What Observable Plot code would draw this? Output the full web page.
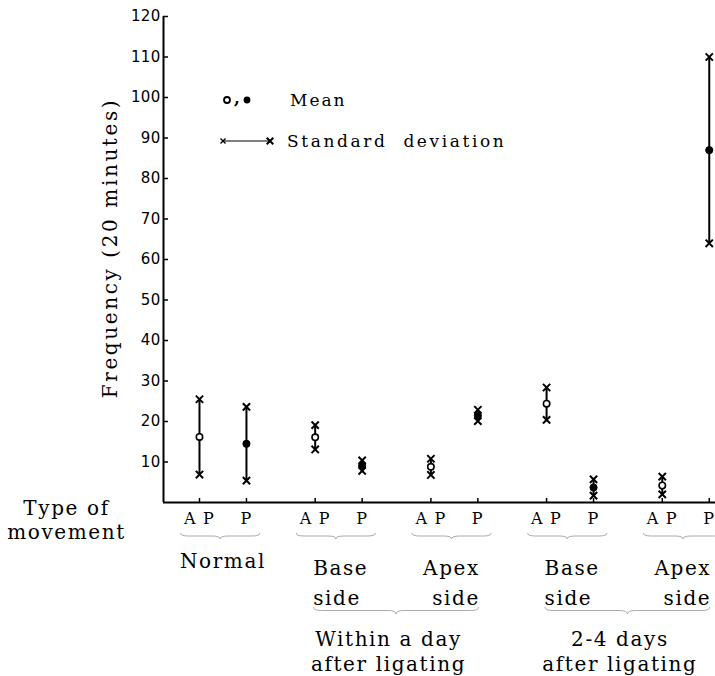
<!DOCTYPE html>
<html><head><meta charset="utf-8">
<script src="https://cdn.jsdelivr.net/npm/d3@7"></script>
<script src="https://cdn.jsdelivr.net/npm/@observablehq/plot@0.6"></script>
<style>
body{margin:0;background:#fff;}
#wrap{position:relative;width:715px;height:676px;overflow:hidden;}
svg text{letter-spacing:1.6px;}
g[aria-label="y-axis tick label"] text{letter-spacing:0.3px;}
g[aria-label="x-axis tick label"] text{letter-spacing:1.2px;}
</style></head><body><div id="wrap"></div>
<script>
// ---- data ----
const groupLabels = ["Normal", "Base\nside", "Apex\nside", "Base\nside", "Apex\nside"];
const groupKinds = ["normal", "base", "apex", "base", "apex"];
const periodLabels = ["Within a day\nafter ligating", "2-4 days\nafter ligating"];
const periodGroups = [[1, 2], [3, 4]];
const typeLabels = ["AP", "P"];
const typeTickText = ["A P", "P"];
const meanAP = [16.2, 16.1, 8.8, 24.4, 4.2];
const sdAP   = [9.3, 3.0, 2.0, 4.0, 2.2];
const meanP  = [14.5, 9.1, 21.5, 3.7, 87.0];
const sdP    = [9.1, 1.3, 1.4, 2.0, 23.0];
const yTicks = [10, 20, 30, 40, 50, 60, 70, 80, 90, 100, 110, 120];
const yLabel = "Frequency (20 minutes)";
const rowLabel = "Type of\nmovement";
const legendItems = ["Mean", "Standard deviation"];

// ---- layout helpers ----
const pOff = 0.406;
const xOf = (gi, t) => gi + (t === "P" ? pOff : 0);
const data = groupLabels.flatMap((g, i) => [
  {gi: i, type: typeLabels[0], mean: meanAP[i], sd: sdAP[i]},
  {gi: i, type: typeLabels[1], mean: meanP[i], sd: sdP[i]}
]).map(d => ({...d, x: xOf(d.gi, d.type), lo: d.mean - d.sd, hi: d.mean + d.sd}));
const tickPos = data.map(d => d.x);
const xDomain = [-0.311, 4.46];
const serif = "DejaVu Serif";

const groupData = groupLabels.map((label, i) => ({
  label, kind: groupKinds[i],
  x: groupKinds[i] === "normal" ? xOf(i, "AP") + pOff / 2 : groupKinds[i] === "base" ? xOf(i, "AP") : xOf(i, "P")
}));
const periodData = periodLabels.map((label, k) => ({
  label, x: (xOf(periodGroups[k][0], "AP") + xOf(periodGroups[k][1], "P")) / 2
}));

const braceSpans1 = groupLabels.map((g, i) => [xOf(i, "AP") - 0.16, xOf(i, "P") + 0.12]);
const braceSpans2 = periodGroups.map(([a, b]) => [xOf(a, "AP") - 0.01, xOf(b, "P") + 0.01]);

function braces(spans, yTop, h) {
  return (index, scales, values, dimensions) => {
    const g = d3.create("svg:g").attr("fill", "none").attr("stroke", "#aaa").attr("stroke-width", 1);
    const base = dimensions.height - dimensions.marginBottom;
    for (const [a, b] of spans) {
      const x0 = scales.x(a), x1 = scales.x(b), xm = (x0 + x1) / 2;
      const y = base + yTop, ym = y + h / 2, yt = y + h, r = 8;
      g.append("path").attr("d",
        `M${x0},${y}Q${x0},${ym} ${x0 + r},${ym}L${xm - r},${ym}Q${xm},${ym} ${xm},${yt}` +
        `Q${xm},${ym} ${xm + r},${ym}L${x1 - r},${ym}Q${x1},${ym} ${x1},${y}`);
    }
    return g.node();
  };
}

const chart = Plot.plot({
  width: 715, height: 676,
  marginLeft: 163, marginRight: 0, marginTop: 16, marginBottom: 174,
  style: {fontFamily: serif, background: "white", color: "black"},
  x: {domain: xDomain},
  y: {domain: [0, 120]},
  marks: [
    Plot.ruleY([0], {strokeWidth: 2}),
    Plot.ruleX([xDomain[0]], {strokeWidth: 2}),
    Plot.axisY(yTicks, {tickSize: -5, tickPadding: 8, fontSize: 15, fontFamily: "DejaVu Sans", label: null, strokeWidth: 1.5}),
    Plot.axisX(tickPos, {tickSize: -4, tickPadding: 14, fontSize: 16, fontFamily: serif, label: null, strokeWidth: 1.5,
      tickFormat: v => typeTickText[typeLabels.indexOf(data.find(e => Math.abs(e.x - v) < 1e-9).type)]}),
    Plot.ruleX(data, {x: "x", y1: "lo", y2: "hi", strokeWidth: 2}),
    Plot.dot(data, {x: "x", y: "lo", symbol: "times", r: 3.4, strokeWidth: 2, stroke: "black"}),
    Plot.dot(data, {x: "x", y: "hi", symbol: "times", r: 3.4, strokeWidth: 2, stroke: "black"}),
    Plot.dot(data.filter(d => d.type === "AP"), {x: "x", y: "mean", r: 3.2, fill: "white", stroke: "black", strokeWidth: 1.6}),
    Plot.dot(data.filter(d => d.type === "P"), {x: "x", y: "mean", r: 3.6, fill: "black", stroke: "black", strokeWidth: 1}),
    braces(braceSpans1, 31, 6),
    braces(braceSpans2, 105, 7),
    Plot.text(groupData.filter(d => d.kind === "normal"), {x: "x", text: "label", frameAnchor: "bottom", lineAnchor: "top", textAnchor: "middle", dy: 51, fontSize: 20, fontFamily: serif}),
    Plot.text(groupData.filter(d => d.kind === "base"), {x: "x", text: "label", frameAnchor: "bottom", lineAnchor: "top", textAnchor: "start", dx: -2, dy: 51, fontSize: 20, lineHeight: 1.5, fontFamily: serif}),
    Plot.text(groupData.filter(d => d.kind === "apex"), {x: "x", text: "label", frameAnchor: "bottom", lineAnchor: "top", textAnchor: "end", dx: 2, dy: 51, fontSize: 20, lineHeight: 1.5, fontFamily: serif}),
    Plot.text(periodData, {x: "x", text: "label", frameAnchor: "bottom", lineAnchor: "top", textAnchor: "middle", dx: -8, dy: 125, fontSize: 20, lineHeight: 1.28, fontFamily: serif}),
    Plot.text([rowLabel], {frameAnchor: "bottom-left", lineAnchor: "top", textAnchor: "middle", dx: -97, dy: -5, fontSize: 20, lineHeight: 1.2, fontFamily: serif}),
    Plot.text([yLabel], {frameAnchor: "left", rotate: -90, textAnchor: "middle", lineAnchor: "middle", dx: -53, dy: -11.5, fontSize: 20, fontFamily: serif})
  ]
});
const wrap = document.getElementById("wrap");
wrap.appendChild(chart);
d3.select(chart).selectAll('g[aria-label="text"]').filter((d, i, n) => i === n.length - 1).selectAll("text").style("letter-spacing", "2.6px");

// ---- legend (overlay) ----
const lg = d3.select(wrap).append("svg").attr("width", 715).attr("height", 676)
  .style("position", "absolute").style("left", 0).style("top", 0).style("pointer-events", "none")
  .attr("font-family", serif).attr("font-size", 17);
lg.append("circle").attr("cx", 227).attr("cy", 100).attr("r", 3).attr("fill", "white").attr("stroke", "black").attr("stroke-width", 1.8);
lg.append("text").attr("x", 234).attr("y", 104).attr("font-weight", "bold").text(",");
lg.append("circle").attr("cx", 247).attr("cy", 100).attr("r", 3.4).attr("fill", "black");
lg.append("text").attr("x", 290).attr("y", 106).style("letter-spacing", "2px").text(legendItems[0]);
lg.append("line").attr("x1", 223).attr("x2", 270).attr("y1", 141).attr("y2", 141).attr("stroke", "black").attr("stroke-width", 1.2);
const times = d3.symbol(d3.symbolTimes);
lg.append("path").attr("d", times.size(18)()).attr("transform", "translate(223,141)").attr("stroke", "black").attr("stroke-width", 1.4);
lg.append("path").attr("d", times.size(30)()).attr("transform", "translate(270,141)").attr("stroke", "black").attr("stroke-width", 2);
lg.append("text").attr("x", 287).attr("y", 147).style("letter-spacing", "2.6px").style("word-spacing", "8px").text(legendItems[1]);
</script></body></html>
